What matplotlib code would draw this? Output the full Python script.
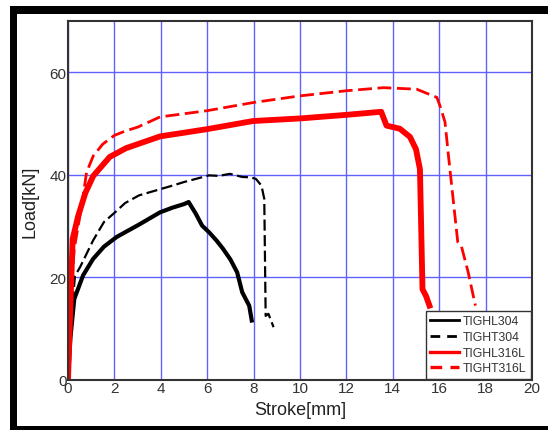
import matplotlib
matplotlib.use("Agg")
import matplotlib.pyplot as plt
from matplotlib.patches import Rectangle
from matplotlib.lines import Line2D

plt.rcParams['font.family'] = ['Liberation Sans', 'DejaVu Sans']

# --- data ---
hl304_x = [0.0, 0.1, 0.27, 0.65, 1.08, 1.55, 2.1, 3.06, 3.97, 4.5, 5.0, 5.2, 5.5, 5.78, 6.08, 6.4, 6.68, 7.0, 7.29, 7.51, 7.81, 7.92]
hl304_y = [0.0, 8.0, 15.8, 20.4, 23.6, 26.0, 27.9, 30.3, 32.7, 33.6, 34.3, 34.7, 32.5, 30.1, 28.8, 27.2, 25.6, 23.5, 21.0, 17.1, 14.5, 11.6]

ht304_x = [0.0, 0.1, 0.3, 0.52, 1.08, 1.55, 2.03, 2.46, 3.06, 3.97, 4.5, 5.0, 5.5, 6.08, 6.5, 6.98, 7.5, 7.89, 8.1, 8.34, 8.46, 8.52, 8.64, 8.86]
ht304_y = [0.0, 10.0, 20.3, 22.0, 27.2, 30.8, 32.7, 34.5, 36.0, 37.2, 37.9, 38.6, 39.2, 39.9, 39.8, 40.2, 39.6, 39.5, 39.2, 37.9, 35.3, 12.5, 12.9, 10.3]

hl316_x = [0.0, 0.1, 0.2, 0.44, 0.75, 1.09, 1.8, 2.5, 3.97, 5.98, 7.98, 10.0, 12.0, 13.5, 13.73, 14.3, 14.74, 15.0, 15.17, 15.28, 15.43, 15.58]
hl316_y = [0.0, 14.0, 27.5, 32.0, 36.5, 39.8, 43.5, 45.2, 47.5, 48.9, 50.5, 51.0, 51.7, 52.3, 49.6, 49.0, 47.4, 45.0, 41.1, 17.7, 16.4, 14.5]

ht316_x = [0.0, 0.12, 0.27, 0.59, 0.8, 1.09, 1.5, 2.0, 2.5, 3.0, 3.97, 5.98, 7.98, 10.0, 12.0, 13.6, 15.03, 15.9, 16.03, 16.25, 16.4, 16.6, 16.8, 16.95, 17.25, 17.56]
ht316_y = [0.0, 15.8, 25.6, 34.0, 40.5, 43.7, 46.0, 47.7, 48.6, 49.3, 51.3, 52.5, 54.1, 55.4, 56.4, 57.0, 56.7, 55.1, 53.5, 50.3, 43.7, 35.3, 26.9, 26.2, 21.0, 14.5]

labels = ['TIGHL304', 'TIGHT304', 'TIGHL316L', 'TIGHT316L']
x_ticks = [0, 2, 4, 6, 8, 10, 12, 14, 16, 18, 20]
y_ticks = [0, 20, 40, 60]

W, H = 548, 431
fig = plt.figure(figsize=(W / 100, H / 100), dpi=100)
fig.patch.set_facecolor('white')

# outer black frame (left, top, bottom bars)
for (x0, y0, w, h) in [(10, 0, 7, 424), (10, 416, 538, 8), (10, 0, 538, 4)]:
    fig.add_artist(Rectangle((x0 / W, y0 / H), w / W, h / H, transform=fig.transFigure,
                             facecolor='black', edgecolor='none', zorder=0))

ax = fig.add_axes([68 / W, (H - 381) / H, (532 - 68) / W, (381 - 22) / H])
ax.set_xlim(0, 20)
ax.set_ylim(0, 70)
ax.set_xticks(x_ticks)
ax.set_yticks(y_ticks)
ax.grid(True, color=(0.38, 0.38, 1.0), linewidth=1.0)
ax.set_axisbelow(True)
ax.tick_params(length=0, labelsize=11, labelcolor='#333333', pad=1)
for s in ax.spines.values():
    s.set_color('#333333')
    s.set_linewidth(1.5)

ax.plot(hl304_x, hl304_y, color='black', lw=3.0, ls='-')
ax.plot(ht304_x, ht304_y, color='black', lw=1.6, ls=(0, (5, 2)))
ax.plot(hl316_x, hl316_y, color='red', lw=4.2, ls='-')
ax.plot(ht316_x, ht316_y, color='red', lw=2.0, ls=(0, (5, 2)))

# legend proxies with uniform line width
handles = [Line2D([], [], color='black', lw=2.0, ls='-'),
           Line2D([], [], color='black', lw=2.0, ls=(0, (3.5, 2.5))),
           Line2D([], [], color='red', lw=2.4, ls='-'),
           Line2D([], [], color='red', lw=2.4, ls=(0, (3.5, 2.5)))]

ax.set_xlabel('Stroke[mm]', fontsize=13, color='#222222', labelpad=4)
ax.set_ylabel('Load[kN]', fontsize=13, color='#222222', labelpad=8)

leg = ax.legend(handles, labels, loc='lower right', bbox_to_anchor=(1.0, 0.0), borderaxespad=0.1,
                fontsize=8.8, handlelength=2.4, handletextpad=0.3, labelspacing=0.3,
                borderpad=0.35, fancybox=False, framealpha=1)
leg.get_frame().set_edgecolor('#333333')
leg.get_frame().set_linewidth(1.0)
for t in leg.get_texts():
    t.set_color('#333333')

fig.savefig('out.png', dpi=100)
